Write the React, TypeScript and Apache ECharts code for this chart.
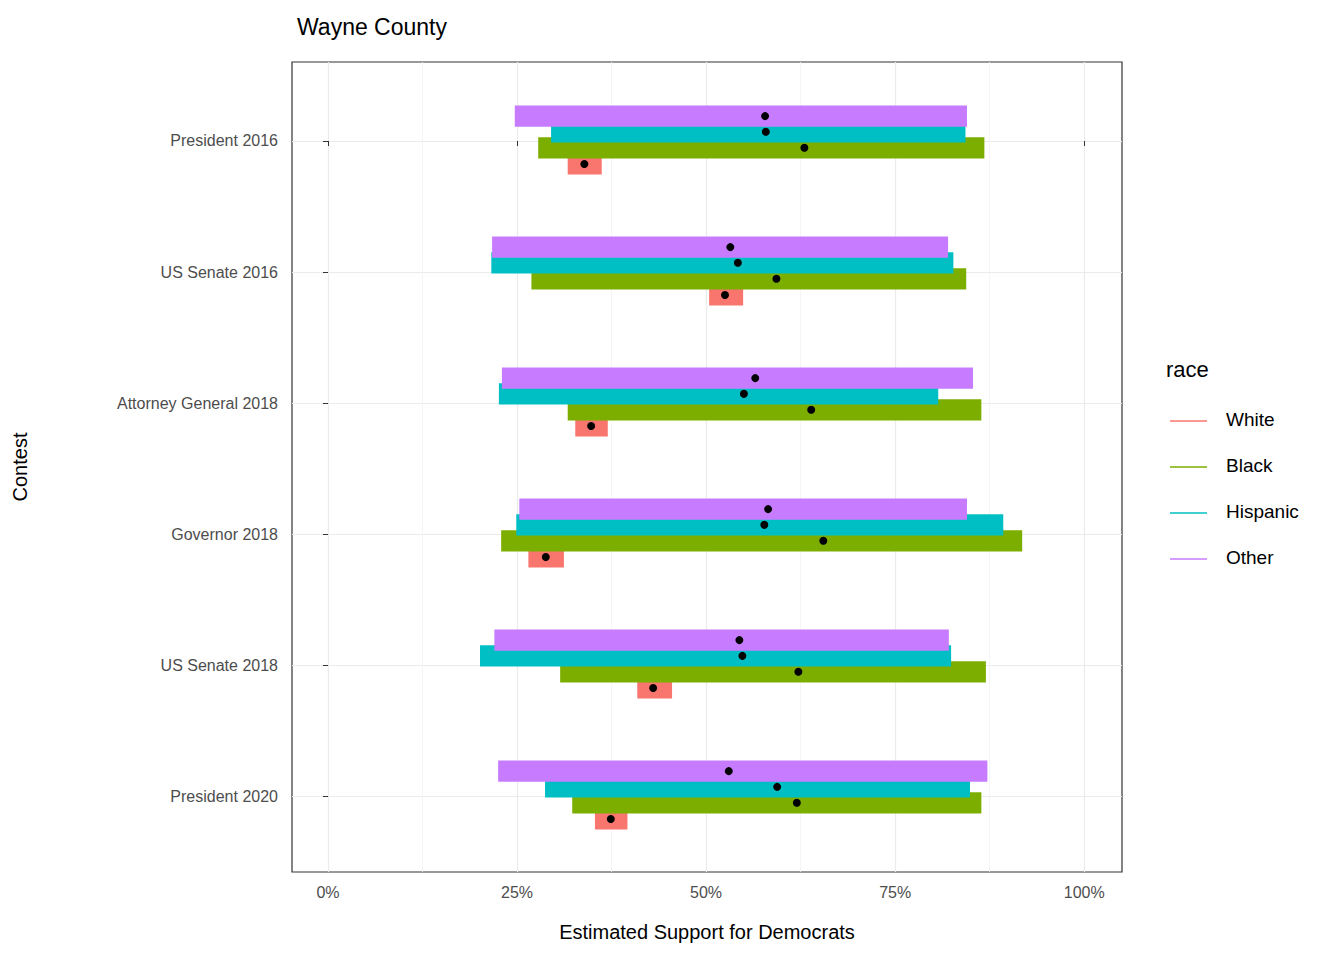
import React, { useEffect, useRef } from 'react';
import * as echarts from 'echarts';

const contests = ['President 2016', 'US Senate 2016', 'Attorney General 2018', 'Governor 2018', 'US Senate 2018', 'President 2020'];
const races = ['White', 'Black', 'Hispanic', 'Other'];
const raceColors = ['#F8766D', '#7CAE00', '#00BFC4', '#C77CFF'];
const raceOffsets = [0.175, 0.052, -0.07, -0.19];

// [low, high, estimate] per contest, one array per race
const white = [[31.7, 36.2, 33.9], [50.4, 54.9, 52.5], [32.7, 37.0, 34.8], [26.5, 31.2, 28.8], [40.9, 45.5, 43.0], [35.3, 39.6, 37.4]];
const black = [[27.8, 86.8, 63.0], [26.9, 84.4, 59.3], [31.7, 86.4, 63.9], [22.9, 91.8, 65.5], [30.7, 87.0, 62.2], [32.3, 86.4, 62.0]];
const hispanic = [[29.5, 84.3, 57.9], [21.6, 82.7, 54.2], [22.6, 80.7, 55.0], [24.9, 89.3, 57.7], [20.1, 82.4, 54.8], [28.7, 84.9, 59.4]];
const other = [[24.7, 84.5, 57.8], [21.7, 82.0, 53.2], [23.0, 85.3, 56.5], [25.3, 84.5, 58.2], [22.0, 82.1, 54.4], [22.5, 87.2, 53.0]];

const xTicks = [0, 25, 50, 75, 100];
const xMinor = [12.5, 37.5, 62.5, 87.5];

const App: React.FC = () => {
  const ref = useRef<HTMLDivElement>(null);

  useEffect(() => {
    document.body.style.margin = '0';
    if (!ref.current) return;
    const chart = echarts.init(ref.current, null, { renderer: 'svg' });

    const all = [white, black, hispanic, other];
    const rows: number[][] = [];
    all.forEach((arr, r) => arr.forEach((v, c) => rows.push([v[0], v[1], v[2], c, r])));

    const font = 'Arial, "Liberation Sans", sans-serif';

    const option = {
      animation: false,
      textStyle: { fontFamily: font },
      title: {
        text: 'Wayne County', left: 292, top: 10,
        textStyle: { fontSize: 23, fontWeight: 'normal', color: '#000', fontFamily: font },
      },
      grid: { left: 292, top: 62, width: 830, height: 810, show: true, borderColor: '#333', borderWidth: 1.2, backgroundColor: '#fff' },
      xAxis: [
        {
          type: 'value', min: -4.76, max: 105, position: 'bottom',
          name: 'Estimated Support for Democrats', nameLocation: 'middle', nameGap: 50,
          nameTextStyle: { fontSize: 20, color: '#000' },
          axisLine: { show: false },
          axisTick: { show: true, customValues: xTicks, length: 5, lineStyle: { color: '#333' } },
          axisLabel: { customValues: xTicks, formatter: (v: number) => v + '%', fontSize: 16, color: '#4d4d4d', margin: 12 },
          splitLine: { show: true, lineStyle: { color: '#ebebeb', width: 1.2 } },
        },
        {
          type: 'value', min: -4.76, max: 105, position: 'bottom', show: true,
          axisLine: { show: false },
          axisTick: { show: false, customValues: xMinor },
          axisLabel: { show: false, customValues: xMinor },
          splitLine: { show: true, lineStyle: { color: '#f3f3f3', width: 0.8 } },
        },
      ],
      yAxis: {
        type: 'value', min: -0.603, max: 5.58, inverse: true,
        name: 'Contest', nameLocation: 'middle', nameGap: 262, nameRotate: 90,
        nameTextStyle: { fontSize: 20, color: '#000' },
        axisLine: { show: false },
        axisTick: { show: true, customValues: [0, 1, 2, 3, 4, 5], length: 5, lineStyle: { color: '#333' } },
        axisLabel: { customValues: [0, 1, 2, 3, 4, 5], formatter: (v: number) => contests[v] ?? '', fontSize: 16, color: '#4d4d4d', margin: 14 },
        splitLine: { show: true, lineStyle: { color: '#ebebeb', width: 1.2 } },
      },
      series: [
        {
          type: 'custom', xAxisIndex: 0,
          data: rows,
          encode: { x: [0, 1] },
          renderItem: (params: any, api: any) => {
            const cat = api.value(3);
            const r = api.value(4);
            const y = cat + raceOffsets[r];
            const p1 = api.coord([api.value(0), y]);
            const p2 = api.coord([api.value(1), y]);
            const h = api.size([0, 0.163])[1];
            return {
              type: 'rect',
              shape: { x: p1[0], y: p1[1] - h / 2, width: p2[0] - p1[0], height: h },
              style: { fill: raceColors[r] },
            };
          },
        },
        {
          type: 'custom', xAxisIndex: 0,
          data: rows,
          encode: { x: 2 },
          renderItem: (params: any, api: any) => {
            const y = api.value(3) + raceOffsets[api.value(4)];
            const p = api.coord([api.value(2), y]);
            return { type: 'circle', shape: { cx: p[0], cy: p[1], r: 4 }, style: { fill: '#000' } };
          },
        },
      ],
      graphic: [
        { type: 'text', left: 1166, top: 358, style: { text: 'race', fontSize: 22, fill: '#000', fontFamily: font } },
        ...races.flatMap((name, i) => [
          { type: 'line', shape: { x1: 1170, y1: 421 + i * 46, x2: 1207, y2: 421 + i * 46 }, style: { stroke: raceColors[i], lineWidth: 1.5 } },
          { type: 'text', left: 1226, top: 410 + i * 46, style: { text: name, fontSize: 19, fill: '#000', fontFamily: font } },
        ]),
      ],
    };

    chart.setOption(option);
    return () => chart.dispose();
  }, []);

  return <div ref={ref} style={{ width: 1344, height: 960 }} />;
};

export default App;
